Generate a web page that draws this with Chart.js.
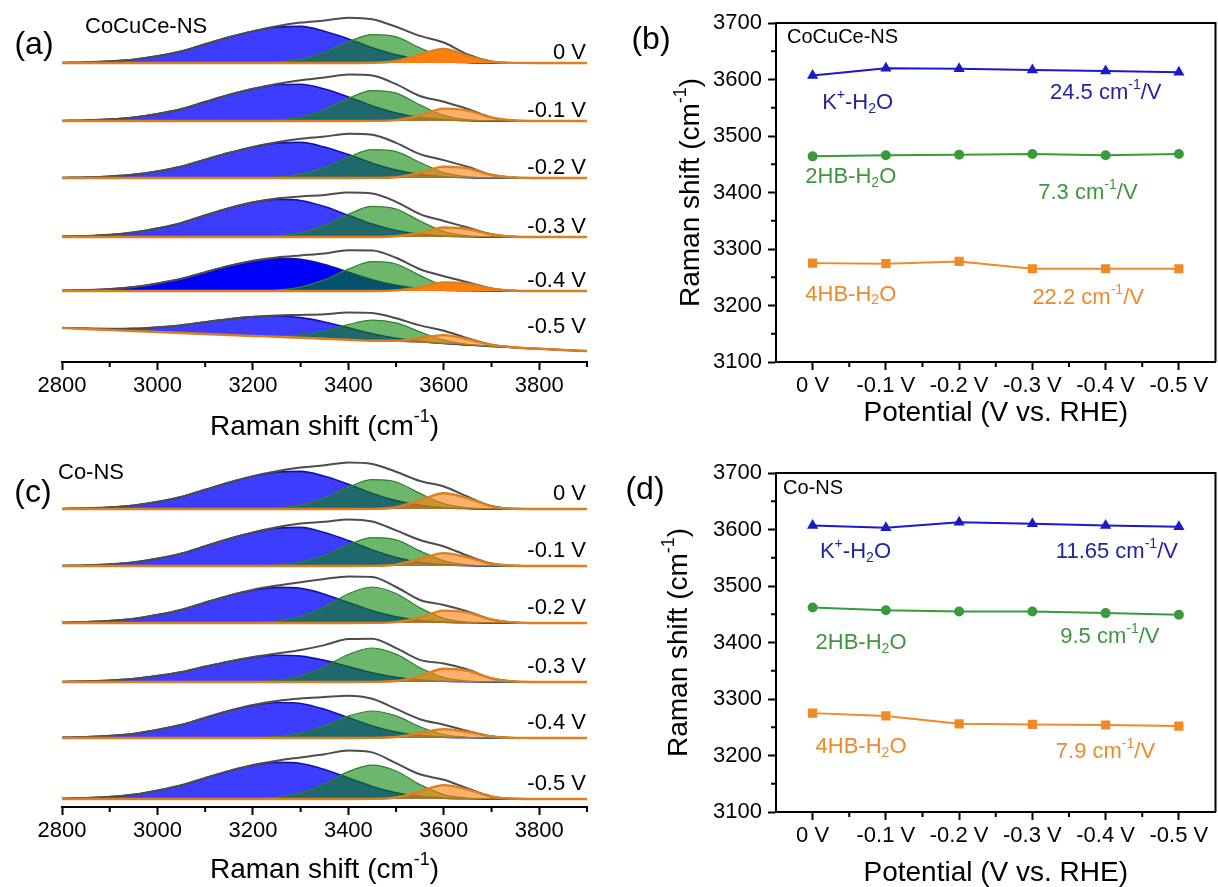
<!DOCTYPE html>
<html>
<head>
<meta charset="utf-8">
<title>Raman spectra and O-H peak positions</title>
<script src="https://cdn.jsdelivr.net/npm/chart.js@4.4.1/dist/chart.umd.min.js"></script>
<style>
  html, body { margin: 0; padding: 0; background: #fff; }
  #page { position: relative; width: 1218px; height: 887px; overflow: hidden; background: #fff; }
  canvas { position: absolute; }
</style>
</head>
<body>
<div id="page">
  <canvas id="panelA" width="600" height="443" style="left:0;top:0"></canvas>
  <canvas id="panelB" width="622" height="443" style="left:600px;top:0"></canvas>
  <canvas id="panelC" width="600" height="444" style="left:0;top:443px"></canvas>
  <canvas id="panelD" width="622" height="444" style="left:600px;top:443px"></canvas>
</div>
<script>
// ---- data ----
const potentials = ['0 V', '-0.1 V', '-0.2 V', '-0.3 V', '-0.4 V', '-0.5 V'];
const ramanShift = [2800, 2850, 2900, 2950, 3000, 3050, 3100, 3150, 3200, 3250, 3300, 3350,
  3400, 3450, 3500, 3550, 3600, 3650, 3700, 3750, 3800, 3850, 3900];

// (a) CoCuCe-NS, stacked spectra (intensity above each baseline, arb. units)
const aOffsets = [299, 241, 184, 125, 71, null];
const aSlopeBase = [34, 33, 32, 31, 30, 29, 28, 27, 26, 25.2, 24.2, 23.2, 22.2, 21.2, 20.2, 19.2, 18, 16.8, 15.6, 14.4, 13.2, 12, 11];
const aRaw = [
  [0.3, 0.7, 1.7, 3.5, 7, 11.8, 18.9, 25.9, 31.9, 36.8, 40.4, 42.5, 45.3, 43.7, 36.2, 27.1, 20.5, 8.6, 1.6, 0.1, 0, 0, 0],
  [0.3, 0.7, 1.7, 3.6, 7.1, 12, 19.2, 26.2, 32.3, 37.1, 40.8, 43.4, 46.6, 45.5, 36.8, 25, 19.3, 12, 3.6, 0.4, 0, 0, 0],
  [0.3, 0.7, 1.6, 3.4, 6.8, 11.5, 18.4, 25.2, 31.1, 35.7, 39.2, 41.4, 44.2, 43.2, 35.1, 23.9, 17.9, 11.2, 3.3, 0.4, 0, 0, 0],
  [0.5, 1.1, 2.3, 4.6, 8.7, 14.1, 21.7, 28.9, 34.8, 38.6, 40.6, 42, 44.5, 43.5, 35.2, 22.9, 16, 9.5, 2.8, 0.3, 0, 0, 0],
  [0.4, 1, 2, 4, 7.6, 12.2, 18.8, 25.1, 30.2, 33.6, 35.6, 37.5, 40.7, 40.6, 33.2, 21.7, 14.8, 8.7, 2.6, 0.3, 0, 0, 0],
  [0.3, 0.6, 1.3, 2.5, 4.8, 7.8, 12, 16, 19.2, 21.4, 22.9, 24.6, 27.3, 27.8, 23.5, 17.4, 13.2, 7, 1.6, 0.1, 0, 0, 0]
];
const aFit4HB = [
  [0.3, 0.7, 1.7, 3.5, 7, 11.8, 18.9, 25.9, 31.8, 35.9, 36.6, 31.8, 24.1, 15.2, 8.1, 3.5, 1.3, 0.4, 0.1, 0, 0, 0, 0],
  [0.3, 0.7, 1.7, 3.6, 7.1, 12, 19.2, 26.2, 32.1, 36.2, 36.8, 31.9, 24, 15, 8, 3.4, 1.3, 0.4, 0.1, 0, 0, 0, 0],
  [0.3, 0.7, 1.6, 3.4, 6.8, 11.5, 18.4, 25.2, 31, 34.9, 35.6, 31, 23.4, 14.8, 7.9, 3.4, 1.3, 0.4, 0.1, 0, 0, 0, 0],
  [0.5, 1.1, 2.3, 4.6, 8.7, 14.1, 21.7, 28.9, 34.6, 37.6, 36.5, 30.4, 21.7, 12.9, 6.5, 2.7, 1, 0.3, 0.1, 0, 0, 0, 0],
  [0.4, 1, 2, 4, 7.6, 12.2, 18.8, 25.1, 30, 32.7, 31.7, 26.4, 18.8, 11.2, 5.6, 2.3, 0.8, 0.3, 0.1, 0, 0, 0, 0],
  [0.3, 0.6, 1.3, 2.5, 4.8, 7.8, 12, 16, 19.1, 20.8, 20.2, 16.8, 12, 7.1, 3.6, 1.5, 0.5, 0.2, 0, 0, 0, 0, 0]
];
const aFit2HB = [
  [0, 0, 0, 0, 0, 0, 0, 0, 0.1, 0.9, 3.8, 10.7, 21.2, 28.4, 26.1, 15.1, 5.2, 1.2, 0.2, 0, 0, 0, 0],
  [0, 0, 0, 0, 0, 0, 0, 0, 0.2, 0.9, 4, 11.5, 22.6, 30.4, 27.9, 16.1, 5.6, 1.2, 0.2, 0, 0, 0, 0],
  [0, 0, 0, 0, 0, 0, 0, 0, 0.1, 0.8, 3.6, 10.4, 20.8, 28.3, 26.4, 15.5, 5.4, 1.2, 0.2, 0, 0, 0, 0],
  [0, 0, 0, 0, 0, 0, 0, 0, 0.2, 1, 4.1, 11.6, 22.8, 30.6, 28, 16, 5.5, 1.2, 0.2, 0, 0, 0, 0],
  [0, 0, 0, 0, 0, 0, 0, 0, 0.2, 0.9, 3.9, 11.1, 21.9, 29.4, 27, 15.6, 5.4, 1.2, 0.2, 0, 0, 0, 0],
  [0, 0, 0, 0, 0, 0, 0, 0, 0.1, 0.6, 2.7, 7.8, 15.3, 20.6, 18.9, 10.9, 3.8, 0.8, 0.1, 0, 0, 0, 0]
];
const aFitK = [
  [0, 0, 0, 0, 0, 0, 0, 0, 0, 0, 0, 0, 0, 0.2, 2, 8.5, 14, 7, 1.4, 0.1, 0, 0, 0],
  [0, 0, 0, 0, 0, 0, 0, 0, 0, 0, 0, 0, 0, 0.1, 0.9, 5.5, 12.4, 10.4, 3.3, 0.4, 0, 0, 0],
  [0, 0, 0, 0, 0, 0, 0, 0, 0, 0, 0, 0, 0, 0.1, 0.8, 5, 11.4, 9.6, 3, 0.4, 0, 0, 0],
  [0, 0, 0, 0, 0, 0, 0, 0, 0, 0, 0, 0, 0, 0, 0.7, 4.2, 9.5, 8, 2.5, 0.3, 0, 0, 0],
  [0, 0, 0, 0, 0, 0, 0, 0, 0, 0, 0, 0, 0, 0, 0.6, 3.8, 8.6, 7.2, 2.3, 0.3, 0, 0, 0],
  [0, 0, 0, 0, 0, 0, 0, 0, 0, 0, 0, 0, 0, 0.1, 1, 5, 8.9, 6, 1.5, 0.1, 0, 0, 0]
];

// (c) Co-NS, stacked spectra
const cOffsets = [298, 241, 184, 125, 69, 8];
const cRaw = [
  [0.3, 0.8, 1.7, 3.6, 7.2, 12.2, 19.4, 26.6, 32.9, 37.8, 41.5, 43.8, 46.6, 45.1, 37.2, 28, 22.5, 12.3, 3, 0.2, 0, 0, 0],
  [0.3, 0.8, 1.8, 3.7, 7.4, 12.5, 19.9, 27.3, 33.6, 38.7, 42.4, 44.2, 46.6, 44.5, 35.6, 26, 19.5, 10.3, 2.5, 0.2, 0, 0, 0],
  [0.4, 1.1, 2.2, 4.3, 8.3, 13.3, 20.5, 27.4, 33.2, 37.4, 40.8, 44, 46.5, 46, 36, 23, 18, 11.6, 3.5, 0.4, 0, 0, 0],
  [0.3, 0.8, 1.6, 3.2, 6.2, 10, 15.4, 20.5, 24.9, 28.4, 32, 36.9, 42.9, 43.3, 33.8, 22.1, 18.4, 12.5, 3.7, 0.4, 0, 0, 0],
  [0.4, 1.1, 2.2, 4.3, 8.2, 13.2, 20.3, 27.2, 32.9, 36.9, 39.4, 40.9, 42.3, 39.2, 29.1, 18.8, 13.3, 7, 1.7, 0.1, 0, 0, 0],
  [0.4, 1.1, 2.2, 4.4, 8.5, 13.7, 21.1, 28.1, 34, 38.3, 41.6, 44.8, 48.5, 46.6, 35.8, 24.7, 19.2, 10.6, 2.6, 0.2, 0, 0, 0]
];
const cFit4HB = [
  [0.3, 0.8, 1.7, 3.6, 7.2, 12.2, 19.4, 26.6, 32.7, 36.9, 37.6, 32.7, 24.7, 15.6, 8.4, 3.6, 1.3, 0.4, 0.1, 0, 0, 0, 0],
  [0.3, 0.8, 1.8, 3.7, 7.4, 12.5, 19.9, 27.3, 33.5, 37.8, 38.6, 33.5, 25.4, 16, 8.6, 3.7, 1.4, 0.4, 0.1, 0, 0, 0, 0],
  [0.4, 1.1, 2.2, 4.3, 8.3, 13.3, 20.5, 27.4, 32.8, 35.6, 34.6, 28.8, 20.5, 12.2, 6.1, 2.5, 0.9, 0.3, 0.1, 0, 0, 0, 0],
  [0.3, 0.8, 1.6, 3.2, 6.2, 10, 15.4, 20.5, 24.6, 26.7, 25.9, 21.6, 15.4, 9.2, 4.6, 1.9, 0.7, 0.2, 0.1, 0, 0, 0, 0],
  [0.4, 1.1, 2.2, 4.3, 8.2, 13.2, 20.3, 27.2, 32.6, 35.5, 34.5, 28.7, 20.4, 12.1, 6, 2.5, 0.9, 0.3, 0.1, 0, 0, 0, 0],
  [0.4, 1.1, 2.2, 4.4, 8.5, 13.7, 21.1, 28.1, 33.7, 36.6, 35.5, 29.6, 21.1, 12.6, 6.3, 2.6, 0.9, 0.3, 0.1, 0, 0, 0, 0]
];
const cFit2HB = [
  [0, 0, 0, 0, 0, 0, 0, 0, 0.2, 0.9, 3.9, 11.1, 21.9, 29.4, 27, 15.6, 5.4, 1.2, 0.2, 0, 0, 0, 0],
  [0, 0, 0, 0, 0, 0, 0, 0, 0.1, 0.9, 3.8, 10.7, 21.2, 28.4, 26.1, 15.1, 5.2, 1.2, 0.2, 0, 0, 0, 0],
  [0, 0, 0, 0, 0, 0, 0, 0, 0.4, 1.8, 6.5, 16.2, 29.2, 36, 29.5, 15.1, 4.7, 0.9, 0.1, 0, 0, 0, 0],
  [0, 0, 0, 0, 0, 0, 0, 0, 0.3, 1.7, 6.1, 15.3, 27.5, 34, 27.9, 14.3, 4.4, 0.9, 0.1, 0, 0, 0, 0],
  [0, 0, 0, 0, 0, 0, 0, 0, 0.3, 1.4, 4.9, 12.2, 21.9, 27, 22.1, 11.3, 3.5, 0.7, 0.1, 0, 0, 0, 0],
  [0, 0, 0, 0, 0, 0, 0, 0, 0.3, 1.7, 6.1, 15.2, 27.4, 33.9, 28, 14.4, 4.4, 0.9, 0.1, 0, 0, 0, 0]
];
const cFitK = [
  [0, 0, 0, 0, 0, 0, 0, 0, 0, 0, 0, 0, 0, 0.1, 1.8, 8.8, 15.8, 10.7, 2.7, 0.2, 0, 0, 0],
  [0, 0, 0, 0, 0, 0, 0, 0, 0, 0, 0, 0, 0, 0.1, 1.4, 7.2, 12.9, 8.7, 2.2, 0.2, 0, 0, 0],
  [0, 0, 0, 0, 0, 0, 0, 0, 0, 0, 0, 0, 0, 0.1, 0.9, 5.5, 12.4, 10.4, 3.3, 0.4, 0, 0, 0],
  [0, 0, 0, 0, 0, 0, 0, 0, 0, 0, 0, 0, 0, 0.1, 1, 5.9, 13.3, 11.2, 3.5, 0.4, 0, 0, 0],
  [0, 0, 0, 0, 0, 0, 0, 0, 0, 0, 0, 0, 0, 0.1, 1, 5, 8.9, 6, 1.5, 0.1, 0, 0, 0],
  [0, 0, 0, 0, 0, 0, 0, 0, 0, 0, 0, 0, 0, 0.1, 1.5, 7.7, 13.9, 9.4, 2.4, 0.2, 0, 0, 0]
];

// (b) and (d) fitted peak positions (cm-1)
const bK = [3607, 3620, 3619, 3617, 3615, 3613];
const b2HB = [3464, 3466, 3467, 3468, 3466, 3468];
const b4HB = [3275, 3274, 3278, 3265, 3265, 3265];
const dK = [3607, 3603, 3613, 3610, 3607, 3605];
const d2HB = [3462, 3457, 3455, 3455, 3452, 3449];
const d4HB = [3275, 3270, 3256, 3255, 3254, 3252];

// ---- drawing ----
const FONT = '"Liberation Sans", Arial, Helvetica, sans-serif';
Chart.defaults.font.family = FONT;
Chart.defaults.color = '#000';

// draws text pieces; '^x' is superscript, '_x' subscript
function richText(ctx, parts, x, y, size, align, color) {
  const segs = parts.map(p => {
    let mode = '', t = p;
    if (p[0] === '^' || p[0] === '_') { mode = p[0]; t = p.slice(1); }
    const fs = mode ? size * 0.64 : size;
    ctx.font = fs + 'px ' + FONT;
    return { t, mode, fs, w: ctx.measureText(t).width };
  });
  const total = segs.reduce((a, s) => a + s.w, 0);
  let cx = align === 'center' ? x - total / 2 : align === 'right' ? x - total : x;
  ctx.fillStyle = color;
  ctx.textAlign = 'left';
  ctx.textBaseline = 'middle';
  segs.forEach(s => {
    ctx.font = s.fs + 'px ' + FONT;
    const dy = s.mode === '^' ? -size * 0.36 : s.mode === '_' ? size * 0.26 : 0;
    ctx.fillText(s.t, cx, y + dy);
    cx += s.w;
  });
}

const spectraDecor = {
  id: 'spectraDecor',
  afterDraw(chart, args, o) {
    const { ctx, chartArea: ca, scales: { x, y } } = chart;
    ctx.save();
    ctx.strokeStyle = '#000';
    ctx.lineWidth = 2;
    for (let v = 2900; v <= 3900; v += 200) {
      const px = x.getPixelForValue(v);
      ctx.beginPath(); ctx.moveTo(px, ca.bottom); ctx.lineTo(px, ca.bottom + 5); ctx.stroke();
    }
    richText(ctx, [o.panel], o.panelAt[0], o.panelAt[1], 32, 'center', '#000');
    richText(ctx, [o.sample], o.sampleAt[0], o.sampleAt[1], 22, 'left', '#000');
    o.labelVals.forEach((v, i) => richText(ctx, [potentials[i]], ca.right - 1, y.getPixelForValue(v), 22, 'right', '#000'));
    richText(ctx, ['Raman shift (cm', '^-1', ')'], (ca.left + ca.right) / 2, o.titleY, 28, 'center', '#000');
    ctx.restore();
  }
};

function spectraChart(id, p) {
  const datasets = [];
  const slopeIdx = potentials.length * 4;
  potentials.forEach((_, i) => {
    const flat = p.offsets[i] !== null;
    const base = k => flat ? p.offsets[i] : p.slope[k];
    const pts = arr => ramanShift.map((x, k) => ({ x, y: base(k) + arr[k] }));
    const fill = flat ? { value: p.offsets[i] } : slopeIdx;
    datasets.push(
      { data: pts(p.k[i]), borderColor: '#dc7f1e', borderWidth: 2.4,
        backgroundColor: p.solidK[i] ? '#ff7f0e' : 'rgba(255,128,14,0.62)', fill },
      { data: pts(p.raw[i]), borderColor: '#4d4d4d', borderWidth: 2, fill: false },
      { data: pts(p.hb2[i]), borderColor: '#2f802f', borderWidth: 1.2,
        backgroundColor: 'rgba(12,135,12,0.6)', fill },
      { data: pts(p.hb4[i]), borderColor: '#1212a6', borderWidth: 1.6,
        backgroundColor: p.solidB[i] ? '#0000ff' : 'rgba(0,0,255,0.76)', fill }
    );
  });
  if (p.slope) {
    datasets.push({ data: ramanShift.map((x, k) => ({ x, y: p.slope[k] })),
      borderWidth: 0, borderColor: 'rgba(0,0,0,0)', fill: false });
  }
  const labelVals = p.offsets.map((off, i) => off !== null ? off + p.lift : p.slope[0] + 1);
  return new Chart(document.getElementById(id), {
    type: 'line',
    data: { datasets },
    plugins: [spectraDecor],
    options: {
      responsive: false,
      animation: false,
      events: [],
      layout: { padding: { left: 62, right: 13, top: 0, bottom: 0 } },
      elements: { point: { radius: 0 }, line: { cubicInterpolationMode: 'monotone' } },
      plugins: {
        legend: { display: false },
        tooltip: { enabled: false },
        spectraDecor: { panel: p.panel, panelAt: p.panelAt, sample: p.sample, sampleAt: p.sampleAt,
          labelVals, titleY: p.titleY }
      },
      scales: {
        x: {
          type: 'linear', min: 2800, max: 3900,
          afterFit: s => { s.height = p.axisH; },
          border: { display: true, color: '#000', width: 2 },
          grid: { drawOnChartArea: false, drawTicks: true, tickLength: 8, tickWidth: 2, tickColor: '#000' },
          ticks: { stepSize: 200, includeBounds: false, padding: 3, maxRotation: 0, autoSkip: false,
            font: { size: 22 }, color: '#000', callback: v => v }
        },
        y: { display: false, min: 0, max: p.top }
      }
    }
  });
}

const shiftDecor = {
  id: 'shiftDecor',
  afterDraw(chart, args, o) {
    const { ctx, chartArea: ca, scales: { x, y } } = chart;
    ctx.save();
    ctx.strokeStyle = '#000';
    ctx.lineWidth = 2;
    ctx.beginPath();
    ctx.moveTo(ca.left, ca.top); ctx.lineTo(ca.right, ca.top); ctx.lineTo(ca.right, ca.bottom);
    ctx.stroke();
    for (let v = 3150; v < 3700; v += 100) {
      const py = y.getPixelForValue(v);
      ctx.beginPath(); ctx.moveTo(ca.left, py); ctx.lineTo(ca.left - 5, py); ctx.stroke();
    }
    for (let i = 0.5; i < potentials.length - 1; i += 1) {
      const px = x.getPixelForValue(i);
      ctx.beginPath(); ctx.moveTo(px, ca.bottom); ctx.lineTo(px, ca.bottom + 5); ctx.stroke();
    }
    richText(ctx, [o.panel], o.panelAt[0], o.panelAt[1], 32, 'center', '#000');
    richText(ctx, [o.sample], o.sampleAt[0], o.sampleAt[1], 20, 'left', '#000');
    o.notes.forEach(n => richText(ctx, n.parts, x.getPixelForValue(n.at), y.getPixelForValue(n.v), 22, 'left', n.color));
    richText(ctx, ['Potential (V vs. RHE)'], (ca.left + ca.right) / 2, o.xTitleY, 28, 'center', '#000');
    ctx.translate(o.yTitleX, (ca.top + ca.bottom) / 2);
    ctx.rotate(-Math.PI / 2);
    richText(ctx, ['Raman shift (cm', '^-1', ')'], 0, 0, 28, 'center', '#000');
    ctx.restore();
  }
};

const BLUE = '#1a1ac8', GREEN = '#3a9a3a', ORANGE = '#f08a26';
const BLUE_TXT = '#24249e', GREEN_TXT = '#3f953f', ORANGE_TXT = '#ec8a2c';

function shiftChart(id, p) {
  return new Chart(document.getElementById(id), {
    type: 'line',
    data: {
      labels: potentials,
      datasets: [
        { data: p.k, borderColor: BLUE, backgroundColor: BLUE, pointStyle: 'triangle', pointRadius: 6.5 },
        { data: p.hb2, borderColor: GREEN, backgroundColor: GREEN, pointStyle: 'circle', pointRadius: 5 },
        { data: p.hb4, borderColor: ORANGE, backgroundColor: ORANGE, pointStyle: 'rect', pointRadius: 6.5 }
      ]
    },
    plugins: [shiftDecor],
    options: {
      responsive: false,
      animation: false,
      events: [],
      layout: { padding: { left: 0, right: 5, top: p.top, bottom: 0 } },
      elements: { line: { borderWidth: 2, tension: 0 }, point: { borderWidth: 0 } },
      plugins: {
        legend: { display: false },
        tooltip: { enabled: false },
        shiftDecor: { panel: p.panel, panelAt: p.panelAt, sample: p.sample, sampleAt: p.sampleAt,
          notes: p.notes, xTitleY: p.xTitleY, yTitleX: p.yTitleX }
      },
      scales: {
        x: {
          type: 'category', offset: true,
          afterFit: s => { s.height = p.axisH; },
          border: { display: true, color: '#000', width: 2 },
          grid: { drawOnChartArea: false, drawTicks: true, tickLength: 8, tickWidth: 2, tickColor: '#000', offset: false },
          ticks: { padding: 3, maxRotation: 0, autoSkip: false, font: { size: 22 }, color: '#000' }
        },
        y: {
          min: 3100, max: 3700,
          afterFit: s => { s.width = 176; },
          border: { display: true, color: '#000', width: 2 },
          grid: { drawOnChartArea: false, drawTicks: true, tickLength: 8, tickWidth: 2, tickColor: '#000' },
          ticks: { stepSize: 100, padding: 6, font: { size: 22 }, color: '#000', callback: v => v }
        }
      }
    }
  });
}

spectraChart('panelA', {
  offsets: aOffsets, slope: aSlopeBase, raw: aRaw, hb4: aFit4HB, hb2: aFit2HB, k: aFitK,
  solidB: [false, false, false, false, true, false],
  solidK: [true, false, false, false, true, false],
  top: 362, axisH: 81, lift: 10,
  panel: '(a)', panelAt: [34, 45], sample: 'CoCuCe-NS', sampleAt: [85, 27], titleY: 427
});

spectraChart('panelC', {
  offsets: cOffsets, slope: null, raw: cRaw, hb4: cFit4HB, hb2: cFit2HB, k: cFitK,
  solidB: [false, false, false, false, false, false],
  solidK: [false, false, false, false, false, false],
  top: 364, axisH: 80, lift: 15,
  panel: '(c)', panelAt: [33, 50], sample: 'Co-NS', sampleAt: [58, 30], titleY: 427
});

shiftChart('panelB', {
  k: bK, hb2: b2HB, hb4: b4HB, top: 23, axisH: 81,
  panel: '(b)', panelAt: [51, 40], sample: 'CoCuCe-NS', sampleAt: [187, 37],
  xTitleY: 413, yTitleX: 91,
  notes: [
    { parts: ['K', '^+', '-H', '_2', 'O'], at: 0.13, v: 3558, color: BLUE_TXT },
    { parts: ['24.5 cm', '^-1', '/V'], at: 3.24, v: 3576, color: BLUE_TXT },
    { parts: ['2HB-H', '_2', 'O'], at: -0.1, v: 3427, color: GREEN_TXT },
    { parts: ['7.3 cm', '^-1', '/V'], at: 3.08, v: 3399, color: GREEN_TXT },
    { parts: ['4HB-H', '_2', 'O'], at: -0.1, v: 3219, color: ORANGE_TXT },
    { parts: ['22.2 cm', '^-1', '/V'], at: 3.0, v: 3213, color: ORANGE_TXT }
  ]
});

shiftChart('panelD', {
  k: dK, hb2: d2HB, hb4: d4HB, top: 30, axisH: 75,
  panel: '(d)', panelAt: [45, 47], sample: 'Co-NS', sampleAt: [183, 45],
  xTitleY: 430, yTitleX: 79,
  notes: [
    { parts: ['K', '^+', '-H', '_2', 'O'], at: 0.1, v: 3560, color: BLUE_TXT },
    { parts: ['11.65 cm', '^-1', '/V'], at: 3.32, v: 3560, color: BLUE_TXT },
    { parts: ['2HB-H', '_2', 'O'], at: 0.04, v: 3399, color: GREEN_TXT },
    { parts: ['9.5 cm', '^-1', '/V'], at: 3.38, v: 3410, color: GREEN_TXT },
    { parts: ['4HB-H', '_2', 'O'], at: 0.04, v: 3215, color: ORANGE_TXT },
    { parts: ['7.9 cm', '^-1', '/V'], at: 3.32, v: 3206, color: ORANGE_TXT }
  ]
});
</script>
</body>
</html>
